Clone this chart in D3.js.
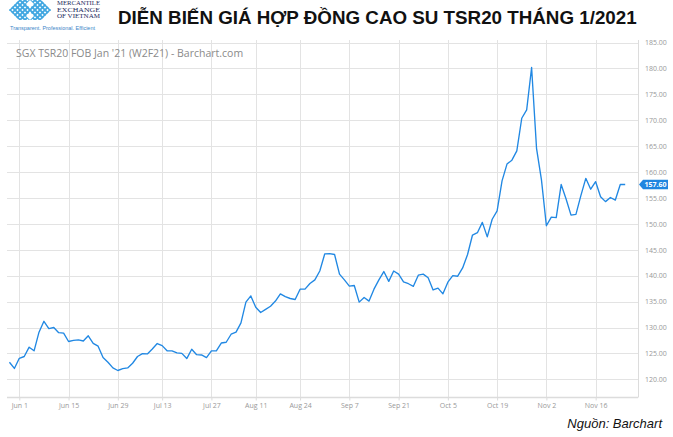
<!DOCTYPE html>
<html>
<head>
<meta charset="utf-8">
<script src="https://cdn.jsdelivr.net/npm/d3@7/dist/d3.min.js"></script>
<style>
  html, body { margin: 0; padding: 0; background: #fff; }
  svg { display: block; }
</style>
</head>
<body>
<svg id="chart" width="673" height="437"></svg>
<script>
// ---------------- DATA ----------------
const titleText = "DIỄN BIẾN GIÁ HỢP ĐỒNG CAO SU TSR20 THÁNG 1/2021";
const seriesLabel = "SGX TSR20 FOB Jan '21 (W2F21) - Barchart.com";
const sourceText = "Nguồn: Barchart";
const startDate = "2020-05-28";
const endDate = "2020-11-24";
const holidays = ["2020-07-10", "2020-07-31", "2020-08-10"];
const prices = [
  123.3, 122.1,
  124.05, 124.4, 126.2, 125.5, 129.1, 131.2, 129.8, 130.0, 129.0, 128.9,
  127.3, 127.5, 127.6, 127.4, 128.4, 126.95, 126.4, 124.2, 123.3, 122.2,
  121.7, 122.05, 122.2, 123.1, 124.4, 124.95, 124.9, 125.85, 126.9,
  126.5, 125.5, 125.5, 125.1, 125.0, 124.0, 125.8, 124.75, 124.7, 124.2,
  125.5, 125.5, 127.0, 127.15, 128.7, 129.1, 130.9, 134.9, 136.1,
  133.9, 132.9, 133.5, 134.1, 135.1, 136.5, 135.95, 135.6, 135.4,
  137.4, 137.4, 138.5, 139.2, 140.9, 144.2, 144.25, 144.1, 140.3, 139.2,
  138.0, 138.1, 134.9, 135.8, 135.1, 137.4, 139.2, 140.8, 138.9, 140.9,
  140.3, 138.8, 138.45, 137.95, 140.1, 140.3, 139.6, 137.25, 137.6, 136.5,
  138.75, 140.0, 139.9, 141.5, 144.1, 147.85, 148.3, 150.3, 147.5, 150.9,
  152.5, 158.3, 161.55, 162.3, 164.1, 170.4, 172.0, 180.2, 164.6, 158.5,
  149.65, 151.3, 151.2, 157.6, 154.8, 151.7, 151.85, 155.45, 158.8, 156.7,
  158.15, 155.25, 154.3, 155.1, 154.6, 157.6, 157.6
];
const lastPrice = 157.60;
const tickDates = ["2020-06-01","2020-06-15","2020-06-29","2020-07-13","2020-07-27","2020-08-11",
                   "2020-08-24","2020-09-07","2020-09-21","2020-10-05","2020-10-19","2020-11-02","2020-11-16"];
const tickLabels = ["Jun 1","Jun 15","Jun 29","Jul 13","Jul 27","Aug 11","Aug 24",
                    "Sep 7","Sep 21","Oct 5","Oct 19","Nov 2","Nov 16"];
const yTicks = [120,125,130,135,140,145,150,155,160,165,170,175,180,185];

// ---------------- BUILD ----------------
const fmtDay = d3.timeFormat("%Y-%m-%d");
const parseDay = d3.timeParse("%Y-%m-%d");
const tradingDays = d3.timeDays(parseDay(startDate), d3.timeDay.offset(parseDay(endDate), 1))
  .filter(d => d.getDay() !== 0 && d.getDay() !== 6 && !holidays.includes(fmtDay(d)))
  .map(fmtDay);
const data = tradingDays.map((d, i) => ({ date: d, value: prices[i] }));

const svg = d3.select("#chart");
const W = 673, H = 437;
const plot = { left: 7, right: 638, top: 40, bottom: 397.5 };

const step = 4.926;
const x = d3.scalePoint()
  .domain(tradingDays)
  .range([19.3 - 2 * step, 19.3 + 123 * step]);
const y = d3.scaleLinear().domain([120, 185]).range([379.3, 42.6]);

const defs = svg.append("defs");
defs.append("clipPath").attr("id", "plotClip")
  .append("rect").attr("x", plot.left).attr("y", plot.top)
  .attr("width", plot.right - plot.left).attr("height", plot.bottom - plot.top);
defs.append("clipPath").attr("id", "axisClip")
  .append("rect").attr("x", plot.right).attr("y", plot.top)
  .attr("width", W - plot.right).attr("height", plot.bottom - plot.top);

// grid
const grid = svg.append("g").attr("clip-path", "url(#plotClip)");
grid.selectAll(".hg").data(yTicks).join("line")
  .attr("x1", plot.left).attr("x2", plot.right)
  .attr("y1", d => Math.round(y(d)) + 0.5).attr("y2", d => Math.round(y(d)) + 0.5)
  .attr("stroke", "#e3e3e3").attr("stroke-width", 1);
grid.selectAll(".vg").data(tickDates).join("line")
  .attr("x1", d => Math.round(x(d)) + 0.5).attr("x2", d => Math.round(x(d)) + 0.5)
  .attr("y1", plot.top).attr("y2", plot.bottom)
  .attr("stroke", "#e3e3e3").attr("stroke-width", 1);

// series label
svg.append("text")
  .attr("x", 16).attr("y", 57)
  .attr("font-family", "'Open Sans', sans-serif")
  .attr("font-size", 10.5)
  .attr("fill", "#8a8a8a")
  .text(seriesLabel);

// axes frame
svg.append("line")
  .attr("x1", plot.left).attr("x2", plot.right)
  .attr("y1", plot.bottom).attr("y2", plot.bottom)
  .attr("stroke", "#dcdcdc").attr("stroke-width", 1.5);
svg.append("line")
  .attr("x1", plot.right + 0.5).attr("x2", plot.right + 0.5)
  .attr("y1", plot.top).attr("y2", plot.bottom)
  .attr("stroke", "#dcdcdc").attr("stroke-width", 1);

// x axis
const xAxis = d3.axisBottom(x).tickValues(tickDates)
  .tickFormat((d, i) => tickLabels[i]).tickSize(3).tickPadding(3);
const gx = svg.append("g").attr("transform", `translate(0,${plot.bottom})`).call(xAxis);
gx.select(".domain").remove();
gx.selectAll(".tick line").attr("stroke", "#dcdcdc");
gx.selectAll(".tick text")
  .attr("font-family", "'Open Sans', sans-serif").attr("font-size", 7).attr("fill", "#999");

// y axis (right) — clip on untransformed wrapper
const yAxis = d3.axisRight(y).tickValues(yTicks).tickFormat(d3.format(".2f"))
  .tickSize(0).tickPadding(7);
const gyWrap = svg.append("g").attr("clip-path", "url(#axisClip)");
const gy = gyWrap.append("g").attr("transform", `translate(${plot.right},0)`).call(yAxis);
gy.select(".domain").remove();
gy.selectAll(".tick text")
  .attr("font-family", "'Open Sans', sans-serif").attr("font-size", 7).attr("fill", "#999");

// line
const line = d3.line().x(d => x(d.date)).y(d => y(d.value));
svg.append("path").datum(data)
  .attr("clip-path", "url(#plotClip)")
  .attr("fill", "none").attr("stroke", "#2188e3")
  .attr("stroke-width", 1.35).attr("stroke-linejoin", "round")
  .attr("d", line);

// last price tag
const ty = y(lastPrice);
const tag = svg.append("g");
tag.append("path")
  .attr("d", `M${plot.right + 1},${ty} L${plot.right + 5},${ty - 4.8} L${plot.right + 30},${ty - 4.8} L${plot.right + 30},${ty + 4.8} L${plot.right + 5},${ty + 4.8} Z`)
  .attr("fill", "#1f86e0");
tag.append("text")
  .attr("x", plot.right + 17.5).attr("y", ty).attr("dy", "0.35em")
  .attr("text-anchor", "middle")
  .attr("font-family", "'Open Sans', sans-serif").attr("font-size", 7)
  .attr("font-weight", "bold").attr("fill", "#fff")
  .text(d3.format(".2f")(lastPrice));

// title
svg.append("text")
  .attr("x", 118).attr("y", 24)
  .attr("font-family", "'Liberation Sans', Arial, sans-serif")
  .attr("font-weight", "bold").attr("font-size", 18.8)
  .attr("fill", "#111")
  .text(titleText);

// source
svg.append("text")
  .attr("x", 662).attr("y", 428).attr("text-anchor", "end")
  .attr("font-family", "'Liberation Sans', Arial, sans-serif")
  .attr("font-style", "italic").attr("font-size", 13)
  .attr("fill", "#111")
  .text(sourceText);

// logo (decorative)
const logo = svg.append("g");
defs.append("clipPath").attr("id", "logoClip")
  .append("path").attr("d", "M9,10 L19,0 L41,0 L51,10 L41,20 L19,20 Z");
const lg = logo.append("g").attr("clip-path", "url(#logoClip)");
for (let k = -30; k <= 60; k += 5) {
  lg.append("line").attr("x1", k).attr("y1", 0).attr("x2", k + 20).attr("y2", 20)
    .attr("stroke", "#41a7e1").attr("stroke-width", 1.8);
  lg.append("line").attr("x1", k + 20).attr("y1", 0).attr("x2", k).attr("y2", 20)
    .attr("stroke", "#41a7e1").attr("stroke-width", 1.8);
}
lg.append("path").attr("d", "M26,4 L30,0 L34,4 L30,8 Z M26,16 L30,12 L34,16 L30,20 Z")
  .attr("fill", "#fff");
const logoText = ["MERCANTILE", "EXCHANGE", "OF VIETNAM"];
logo.selectAll(".lt").data(logoText).join("text")
  .attr("x", 57).attr("y", (d, i) => 5 + i * 6.5)
  .attr("font-family", "'Liberation Serif', serif").attr("font-size", 6.8)
  .attr("textLength", 43).attr("lengthAdjust", "spacingAndGlyphs")
  .attr("fill", "#1d2a5c").text(d => d);
logo.append("text").attr("x", 10).attr("y", 30)
  .attr("font-family", "'Liberation Sans', sans-serif").attr("font-size", 5.2)
  .attr("textLength", 85).attr("lengthAdjust", "spacingAndGlyphs")
  .attr("fill", "#3c86c8").text("Transparent. Professional. Efficient");
</script>
</body>
</html>
